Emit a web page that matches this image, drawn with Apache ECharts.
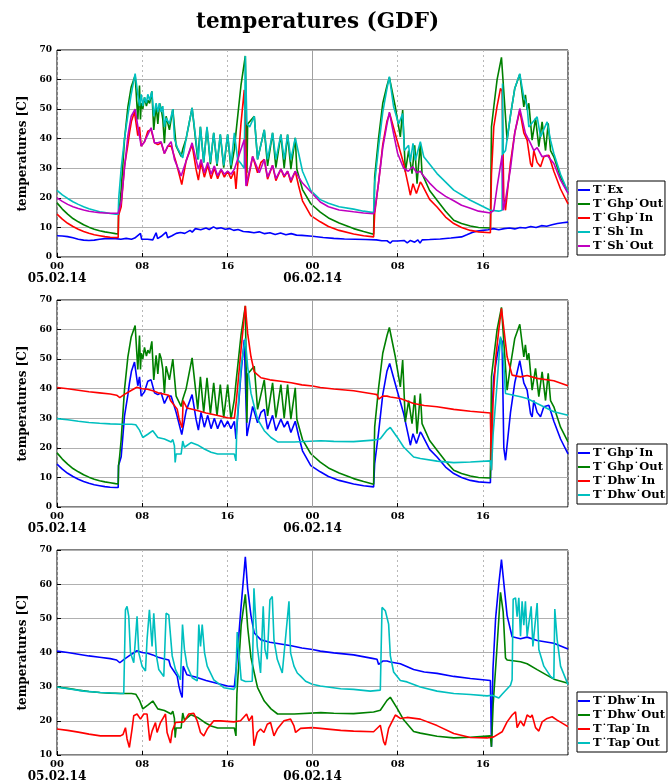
<!DOCTYPE html>
<html><head><meta charset="utf-8">
<script src="https://cdn.jsdelivr.net/npm/echarts@6/dist/echarts.min.js"></script>
<style>html,body{margin:0;padding:0;background:#fff}#c{width:668px;height:783px}</style>
</head><body><div id="c"></div>
<script>
// ---- data: [hour since 05.02.14 00:00, temperature °C] ----
const tEx = [[0,7.2],[0.5,7.1],[1,6.9],[1.5,6.5],[2,6.0],[2.5,5.7],[3,5.6],[3.5,5.7],[4,6.0],[4.5,6.2],[5,6.3],[5.5,6.2],[6,6.0],[6.5,6.3],[7,6.0],[7.3,6.4],[7.84,8.0],[7.95,6.0],[8.5,6.0],[9.0,5.8],[9.31,8.2],[9.45,6.2],[9.8,7.0],[10.25,8.4],[10.4,6.5],[10.8,7.2],[11.2,8.0],[11.6,8.3],[12.0,8.0],[12.5,9.0],[12.7,8.4],[13.0,9.6],[13.5,9.2],[14.0,9.8],[14.3,9.3],[14.7,10.2],[15.0,9.6],[15.4,9.9],[15.8,9.4],[16.2,9.6],[16.6,9.0],[17.0,9.3],[17.5,8.6],[18.0,8.5],[18.5,8.2],[19.0,8.5],[19.5,7.9],[20.0,8.2],[20.5,7.6],[21.0,8.1],[21.5,7.5],[22.0,7.9],[22.5,7.4],[23,7.3],[24,7.0],[25,6.6],[26,6.3],[27,6.1],[28,6.0],[29,5.9],[30,5.8],[30.5,5.5],[31.0,5.5],[31.3,4.7],[31.5,5.4],[32,5.4],[32.6,5.6],[32.9,4.8],[33.2,5.6],[33.6,5.0],[33.9,5.8],[34.1,4.7],[34.3,5.8],[35,5.9],[36,6.1],[37,6.4],[38,6.8],[38.5,7.5],[39,8.3],[39.5,8.8],[40,9.0],[40.5,9.2],[41,9.6],[41.5,9.2],[42,9.6],[42.5,9.8],[43,9.5],[43.5,10.0],[44,9.8],[44.5,10.3],[45,10.0],[45.5,10.6],[46,10.4],[46.5,10.9],[47,11.3],[47.5,11.6],[48,11.8]];

const tGhpOut = [[0,18.3],[0.5,16.2],[1,14.5],[1.5,13.0],[2,11.9],[2.5,10.9],[3,10.1],[3.5,9.4],[4,8.9],[4.5,8.5],[5,8.2],[5.5,7.9],[5.75,7.8],[5.78,14],[5.88,17],[6.03,22.8],[6.34,39.7],[6.66,50.8],[6.97,57.5],[7.34,61.4],[7.59,46.5],[7.75,58],[7.84,46.5],[7.91,52],[8.06,50],[8.22,54],[8.4,51],[8.53,53],[8.7,52],[8.91,56],[9.09,43],[9.31,51.3],[9.47,45],[9.63,52],[9.78,50.3],[9.94,46.5],[10.09,38.5],[10.25,47.6],[10.56,43],[10.88,50],[11.19,37.5],[11.66,34],[11.81,36.4],[12.13,40],[12.69,50.4],[13.22,33],[13.47,44],[13.78,32],[14.09,43.7],[14.41,31.4],[14.72,42],[15.03,30.8],[15.34,41.4],[15.66,30.2],[16.03,41.4],[16.34,29.7],[16.66,36.4],[16.81,42],[17.28,58],[17.69,68],[17.84,28.5],[17.91,45],[18.53,47.6],[18.84,33],[19.47,43],[19.78,30.8],[20.25,42],[20.56,30.2],[21.03,41.4],[21.34,30],[21.66,41.4],[21.97,29.7],[22.38,40.3],[22.53,29.7],[23.06,22.8],[23.84,18],[24.73,15.2],[25.5,13.2],[26.5,11.5],[27.86,9.6],[28.8,8.6],[29.74,7.7],[29.84,27],[30.2,40],[30.6,52],[31.0,58],[31.22,60.7],[31.78,50.8],[32.25,40.6],[32.47,49.7],[32.72,28.8],[33.03,36],[33.35,28.2],[33.6,37.8],[33.82,24.8],[34.13,38.4],[34.29,28.2],[35.0,22.5],[35.7,19.2],[36.5,15.5],[37.27,12.4],[38.0,11.3],[38.83,10.5],[39.6,10.0],[40.71,9.8],[40.81,44],[41.03,50.8],[41.34,60],[41.75,67.5],[42.28,39.5],[42.6,48],[43.0,57],[43.47,61.8],[43.85,50.8],[44.0,54.8],[44.16,49.7],[44.32,52],[44.63,39.5],[44.95,46.9],[45.26,37.3],[45.57,45.7],[45.89,36],[46.14,45.2],[46.36,36],[46.67,33.9],[47.3,27],[48,22]];

const tGhpIn = [[0,14.5],[0.5,12.8],[1,11.4],[1.5,10.3],[2,9.4],[2.5,8.6],[3,8.0],[3.5,7.5],[4,7.2],[4.5,6.9],[5,6.7],[5.5,6.6],[5.75,6.6],[5.78,14],[6.03,17],[6.34,30.7],[6.66,38],[6.81,42],[7.0,46],[7.28,49],[7.59,41],[7.75,44],[7.91,37.5],[8.22,39],[8.53,42.5],[8.84,43],[9.16,38.6],[9.47,38],[9.78,38.6],[10.09,35],[10.41,37.5],[10.72,37.5],[11.19,32],[11.72,24.5],[12.13,32.5],[12.69,38],[13.06,29.7],[13.28,26],[13.53,32],[13.84,27],[14.16,31],[14.47,26.5],[14.78,30],[15.09,26.5],[15.41,29.5],[15.72,27],[16.03,29],[16.34,26.5],[16.66,29],[16.81,23],[17.28,45],[17.59,56.5],[17.84,24],[18.38,34],[18.84,28.5],[19.16,32],[19.47,33],[19.78,26.3],[20.25,31],[20.56,25.8],[21.03,29.7],[21.34,27],[21.66,29],[21.97,25.2],[22.38,29],[22.7,24],[23.06,19],[23.84,14],[24.73,11.9],[25.5,10.3],[26.5,9.0],[27.86,7.8],[28.8,7.2],[29.74,6.8],[29.84,14.7],[30.2,25],[30.6,38],[31.0,46],[31.25,48.5],[31.94,39.5],[32.56,31.6],[33.03,23.7],[33.19,20.9],[33.44,24.8],[33.76,21.5],[34.13,25.4],[34.29,24.5],[35.0,19.5],[35.7,16.9],[36.5,13.5],[37.27,11.3],[38.0,10],[38.83,9],[39.6,8.5],[40.71,8.2],[40.81,28],[41.03,44],[41.34,51],[41.66,57],[41.81,56],[41.97,20],[42.13,15.8],[42.6,32],[43.0,42],[43.47,49.5],[43.85,42],[44.16,39.5],[44.48,31.6],[44.63,30.5],[44.79,36],[45.1,32],[45.42,30.5],[45.73,33.9],[46.2,34.4],[46.67,29],[47.3,23],[48,18]];

const tShIn = [[0,22.5],[0.5,21],[1,19.8],[1.5,18.7],[2,17.8],[2.5,17.0],[3,16.3],[3.5,15.8],[4,15.3],[4.5,15.0],[5,14.7],[5.5,14.5],[5.75,14.5],[5.8,20],[6.03,30],[6.34,40],[6.66,48],[6.97,55],[7.34,62],[7.59,55],[7.75,51],[7.91,55],[8.06,51],[8.22,54],[8.4,52],[8.53,55],[8.7,53],[8.91,56],[9.09,47.6],[9.31,52],[9.47,49],[9.63,52],[9.78,49],[9.94,51],[10.09,44],[10.25,47],[10.56,45],[10.88,50],[11.03,40],[11.3,37],[11.81,33.5],[12.13,40],[12.69,50.4],[13.1,38],[13.28,33],[13.47,44],[13.78,32],[14.09,44],[14.41,32],[14.72,42],[15.03,31.5],[15.34,41.5],[15.66,31],[16.03,41.5],[16.34,31],[16.66,42],[16.97,33],[17.3,31.5],[17.59,30],[17.69,68],[17.84,45],[18.1,44],[18.53,47.6],[18.84,33],[19.47,43],[19.78,33],[20.25,42],[20.56,33],[21.03,41.4],[21.34,33],[21.66,41.4],[21.97,33],[22.38,40.3],[22.7,35],[23.06,29],[23.84,22.5],[24.73,19.4],[25.5,18.2],[26.5,17.0],[27.86,16.2],[28.8,15.5],[29.74,15],[29.84,25],[30.2,37],[30.6,49],[31.0,57],[31.22,61],[31.62,50.8],[32.09,45],[32.47,48.5],[32.63,36],[33.03,37.8],[33.19,32.2],[33.44,38.4],[33.66,32.7],[34.13,39],[34.45,33.9],[35.7,28.2],[37.27,22.6],[38.83,19.2],[40.71,15.8],[41.5,15.5],[41.81,15.8],[41.85,58.7],[41.91,35],[42.13,36],[42.6,48],[43.0,57],[43.47,62],[43.85,54],[44.0,53],[44.16,51],[44.32,44],[45.1,47.4],[45.42,40.6],[46.04,45.7],[46.36,39.5],[46.67,35],[47.3,28],[48,22]];

const tShOut = [[0,20],[0.5,18.8],[1,17.8],[1.5,17],[2,16.4],[2.5,15.9],[3,15.5],[3.5,15.2],[4,15],[4.5,14.9],[5,14.8],[5.75,14.8],[6.03,18.5],[6.34,30],[6.66,41],[6.97,47.6],[7.34,50],[7.6,44],[7.91,37.5],[8.22,39],[8.84,43.7],[9.16,38.6],[9.47,38.6],[9.78,39],[10.09,35],[10.41,37.5],[10.72,39],[11.03,33],[11.66,27.4],[12.13,32.5],[12.69,38.6],[13.28,29.7],[13.53,33],[13.84,28.5],[14.16,32],[14.47,28],[14.78,30.8],[15.09,27.5],[15.41,29.7],[15.72,28],[16.03,29],[16.34,28],[16.66,29.7],[17.59,39.7],[17.75,24],[18.38,34],[19.0,28.5],[19.47,33],[19.78,27],[20.25,31],[20.56,26.5],[21.03,29.7],[21.34,27.5],[21.66,29],[21.97,26],[22.38,29],[22.7,27],[23.06,25],[23.84,22],[24.73,18.6],[25.5,17],[26.5,15.9],[27.86,15.3],[28.8,14.9],[29.74,14.6],[29.84,15.5],[30.2,25],[30.6,37],[31.0,45],[31.22,49],[31.6,42],[32.0,35],[32.56,30],[33.0,29],[33.4,30.5],[33.8,28.5],[34.13,29],[34.3,28],[35.0,25],[35.7,22.5],[36.5,20.5],[37.27,19],[38.0,17.5],[38.83,16.5],[39.6,15.5],[40.71,14.9],[41.03,15.8],[41.34,23.7],[41.81,34.4],[41.91,15.8],[42.13,19.2],[42.6,30],[43.0,42],[43.47,50.2],[44.0,41.8],[44.48,38.4],[44.79,36],[45.1,37],[45.57,33.9],[46.04,34.4],[46.67,31.6],[47.3,26],[48,21.5]];

const tDhwIn = [[0,40.4],[1,40.0],[2,39.5],[3,39.0],[4,38.6],[5,38.2],[5.6,37.8],[5.9,37.0],[6.3,38.0],[7.0,39.5],[7.5,40.5],[8.0,40.0],[8.5,39.8],[9.0,39.3],[9.5,38.6],[10.0,38.2],[10.5,37.8],[10.66,36],[10.97,34.6],[11.29,33.1],[11.45,30.2],[11.6,28.3],[11.76,26.8],[11.85,36],[12.2,33.5],[13,32.8],[14,31.8],[15,31],[16,30.2],[16.66,30],[16.8,30],[16.85,36],[17.28,53],[17.69,68],[17.91,58.7],[18.22,50.8],[18.53,45.7],[19.16,43.7],[20,43],[21,42.5],[22,42],[23,41.3],[24,40.9],[24.73,40.4],[26,39.9],[27.86,39.3],[29.74,38.2],[30.06,38.0],[30.21,36.5],[30.6,37.5],[31.0,37.5],[31.31,37.2],[32.25,36.7],[33.5,35],[34.5,34.3],[35.7,33.9],[37.27,33],[38.83,32.4],[40.71,31.8],[40.81,12.4],[40.95,35],[41.2,50],[41.5,60],[41.75,67.2],[42.28,50.8],[42.75,44.6],[43.54,44],[44.16,44.5],[45.1,43.5],[46.67,42.7],[48,41]];

const tDhwOut = [[0,29.9],[1,29.5],[2,29],[3,28.6],[4,28.3],[5,28.1],[6,28],[7,28],[7.4,27.8],[7.75,26],[8.06,23.5],[8.53,24.6],[9.0,25.8],[9.47,23.5],[10.09,23],[10.72,22],[10.88,22.8],[11.03,20.7],[11.1,15.1],[11.19,17.9],[11.66,17.9],[11.81,22.3],[11.97,20.2],[12.59,21.8],[13.2,21],[13.84,19.6],[14.47,18.5],[15.09,17.9],[16.66,17.9],[16.81,15.6],[16.9,28],[17.3,48],[17.69,57],[17.91,47.4],[18.22,38.5],[18.53,34],[18.84,29.7],[19.47,25.8],[20.1,23.5],[20.72,22],[22.28,22],[24.78,22.4],[26,22.2],[27.86,22.1],[29.74,22.6],[30.37,23.1],[31.0,26],[31.31,26.9],[31.94,23.7],[32.56,20.3],[33.5,16.9],[34.13,16.4],[35.7,15.5],[37.27,15],[38.83,15.2],[40.71,15.6],[40.81,12.4],[40.97,24.8],[41.3,40],[41.66,57.6],[41.91,51.9],[42.13,38.4],[42.28,37.8],[43.54,37.3],[44.16,36.7],[45.1,35],[46.67,32.2],[48,31]];

const tTapIn = [[0,17.6],[1,17.2],[2,16.7],[2.51,16.4],[3,16.1],[4.08,15.6],[5.96,15.6],[6.2,16],[6.43,18],[6.58,14.7],[6.8,12.2],[7.05,17.6],[7.21,21.5],[7.52,22],[7.84,20.5],[8.15,22],[8.46,22],[8.71,14.2],[8.93,17],[9.25,19.5],[9.4,16.6],[9.72,19.5],[10.19,22],[10.34,16.6],[10.66,13.5],[10.82,17],[11.13,19.5],[11.29,20],[11.91,19.7],[12.38,22],[12.85,22.2],[13.17,20],[13.48,16.6],[13.79,15.6],[14.11,17.6],[14.73,20],[15.36,20],[16.61,19.7],[17.24,20],[17.81,22],[18.03,20],[18.34,21.5],[18.5,12.7],[18.81,16.6],[19.12,17.6],[19.44,16.6],[19.75,19],[20.06,19.5],[20.38,15.6],[20.69,17.6],[21.32,20],[21.94,20.5],[22.26,18.5],[22.41,16.6],[22.88,17.8],[23.98,18],[24.73,17.8],[26.65,17.2],[27.86,17],[29.74,16.8],[30.37,18.7],[30.68,13.9],[30.84,12.9],[31.15,17.8],[31.78,21.7],[32.25,20.7],[32.88,21],[34.13,20.5],[35.7,18.6],[37.27,16.3],[38.83,15.1],[40.4,15],[41.03,15.3],[41.81,16.8],[42.28,19.7],[42.75,21.7],[43.07,22.6],[43.22,18],[43.54,20],[43.85,18.5],[44.16,21.7],[44.48,21],[44.63,21.7],[44.95,18],[45.26,17],[45.57,19.7],[46.04,20.7],[46.51,21.2],[46.98,20.2],[48,18.3]];

const tTapOut = [[0,29.9],[2.51,28.7],[4.08,28.3],[5.96,28],[6.27,28],[6.43,52.5],[6.58,53.5],[6.74,50.6],[6.9,39.9],[7.21,37],[7.52,50.6],[7.68,39.9],[7.99,36],[8.31,34.6],[8.46,43.8],[8.68,52.5],[8.93,41.8],[9.09,51.5],[9.34,39],[9.56,35],[10.03,33],[10.25,51.5],[10.5,51],[10.66,51],[10.82,39],[11.13,35],[11.6,32],[11.79,48.2],[11.97,40.9],[12.22,36],[12.7,32.6],[13.17,31.7],[13.32,48.2],[13.48,41.8],[13.64,48.2],[13.86,39.9],[14.11,36],[14.73,32],[15.67,29.7],[16.61,29.2],[16.77,30],[16.93,46],[17.3,32],[17.7,31.5],[18.34,31.6],[18.5,58.8],[18.65,59.2],[18.81,41.8],[19.12,34],[19.37,53.5],[19.53,41],[19.75,38],[20.0,55.4],[20.22,56.4],[20.38,43.8],[20.69,38],[21.16,34],[21.79,55],[21.94,39.9],[22.26,36],[22.57,34],[22.88,33.1],[23.35,31.6],[23.98,30.7],[24.73,30.2],[26.65,29.4],[27.86,29.2],[29.43,28.7],[30.37,29],[30.53,53.2],[30.68,53.7],[30.84,52.2],[31.0,52.7],[31.15,48.3],[31.31,39.1],[31.62,34.3],[32.25,31.8],[32.88,31.4],[34.13,29.9],[35.7,28.7],[37.27,28],[38.83,27.7],[40.4,27.3],[40.87,27.5],[41.5,26.7],[41.81,27.8],[42.6,30.4],[42.75,32],[42.85,55.6],[43.07,56],[43.22,50.5],[43.38,56],[43.54,44.8],[43.69,55],[43.85,48],[44.0,55],[44.16,44.8],[44.54,53.5],[44.7,41.8],[45.1,54.5],[45.26,40.9],[45.73,36],[46.36,33],[46.67,32.3],[46.76,52.7],[46.98,43.8],[47.3,36],[48,30.6]];

const hourLabels = {0:'00',8:'08',16:'16',24:'00',32:'08',40:'16'};
const dateLabels = {0:'05.02.14',24:'06.02.14'};
const yTicks1 = [0,70,10];   // min, max, step
const yTicks3 = [10,70,10];
const titleText = 'temperatures (GDF)';
const yName = 'temperatures [C]';

// ---- styling ----
const F = 'DejaVu Serif';
const C = {b:'#0000ff', g:'#008000', r:'#ff0000', c:'#00bfbf', m:'#bf00bf'};
const grids = [{top:50,h:207},{top:300,h:207},{top:550,h:206}];

const xAxes = grids.map((g,i)=>({
  type:'value', gridIndex:i, min:0, max:48, interval:8,
  axisLine:{show:false}, axisTick:{show:true, inside:true, length:4, lineStyle:{color:'#000'}},
  splitLine:{show:true, lineStyle:{color:'#b8b8b8', type:[2,3], width:1}},
  axisLabel:{show:true, margin:4, showMaxLabel:false,
    formatter:v=>{ if(hourLabels[v]===undefined) return ''; return '{a|'+hourLabels[v]+'}'+(dateLabels[v]?'\n{b|'+dateLabels[v]+'}':''); },
    rich:{a:{fontFamily:F,fontWeight:'bold',fontSize:10,color:'#000',lineHeight:11},
          b:{fontFamily:F,fontWeight:'bold',fontSize:12,color:'#000',lineHeight:14}}}
}));
const yAxes = grids.map((g,i)=>{
  const t = i===2?yTicks3:yTicks1;
  return {type:'value', gridIndex:i, min:t[0], max:t[1], interval:t[2],
    name:yName, nameLocation:'middle', nameGap:27,
    nameTextStyle:{fontFamily:F,fontWeight:'bold',fontSize:12,color:'#000'},
    axisLine:{show:false}, axisTick:{show:true, inside:true, length:4, lineStyle:{color:'#000'}},
    splitLine:{show:true, lineStyle:{color:'#b0b0b0', width:1}},
    axisLabel:{fontFamily:F,fontWeight:'bold',fontSize:9,color:'#000',margin:5}};
});

function ln(name, data, color, gi, withMark){
  const s = {type:'line', name, data, xAxisIndex:gi, yAxisIndex:gi, showSymbol:false, symbol:'none',
    lineStyle:{color, width:1.6}, itemStyle:{color}, animation:false, z:2};
  if(withMark){ s.markLine = {silent:true, symbol:'none', label:{show:false},
     lineStyle:{color:'#a0a0a0', type:'solid', width:1}, data:[{xAxis:24}]}; }
  return s;
}
const Z1='\u200b', Z2='\u200b\u200b';
const series = [
  ln('T˙Ex', tEx, C.b, 0, true),
  ln('T˙Ghp˙Out', tGhpOut, C.g, 0),
  ln('T˙Ghp˙In', tGhpIn, C.r, 0),
  ln('T˙Sh˙In', tShIn, C.c, 0),
  ln('T˙Sh˙Out', tShOut, C.m, 0),
  ln('T˙Ghp˙In'+Z1, tGhpIn, C.b, 1, true),
  ln('T˙Ghp˙Out'+Z1, tGhpOut, C.g, 1),
  ln('T˙Dhw˙In'+Z1, tDhwIn, C.r, 1),
  ln('T˙Dhw˙Out'+Z1, tDhwOut, C.c, 1),
  ln('T˙Dhw˙In'+Z2, tDhwIn, C.b, 2, true),
  ln('T˙Dhw˙Out'+Z2, tDhwOut, C.g, 2),
  ln('T˙Tap˙In'+Z2, tTapIn, C.r, 2),
  ln('T˙Tap˙Out'+Z2, tTapOut, C.c, 2)
];
function leg(top, names){
  return {orient:'vertical', left:577, top, data:names.map(n=>({name:n, icon:'rect'})),
    itemWidth:12, itemHeight:2, itemGap:2, padding:[3,2,3,1],
    borderColor:'#000', borderWidth:1, borderRadius:0, backgroundColor:'#fff',
    formatter:n=>n.replace(/\u200b/g,''),
    textStyle:{fontFamily:F,fontWeight:'bold',fontSize:11.5,color:'#000',padding:[0,0,0,-2]},
    selectedMode:false};
}
const option = {
  animation:false, backgroundColor:'#fff',
  title:{text:titleText, left:191, top:6, textStyle:{fontFamily:F,fontWeight:'bold',fontSize:21.5,color:'#000'}},
  grid: grids.map(g=>({left:57, right:100, top:g.top, height:g.h, show:true, borderColor:'#000', borderWidth:1, backgroundColor:'transparent'})),
  xAxis:xAxes, yAxis:yAxes, series,
  legend:[
    leg(181, ['T˙Ex','T˙Ghp˙Out','T˙Ghp˙In','T˙Sh˙In','T˙Sh˙Out']),
    leg(444, ['T˙Ghp˙In'+Z1,'T˙Ghp˙Out'+Z1,'T˙Dhw˙In'+Z1,'T˙Dhw˙Out'+Z1]),
    leg(692, ['T˙Dhw˙In'+Z2,'T˙Dhw˙Out'+Z2,'T˙Tap˙In'+Z2,'T˙Tap˙Out'+Z2])
  ]
};
const chart = echarts.init(document.getElementById('c'), null, {renderer:'canvas'});
chart.setOption(option);
</script></body></html>
